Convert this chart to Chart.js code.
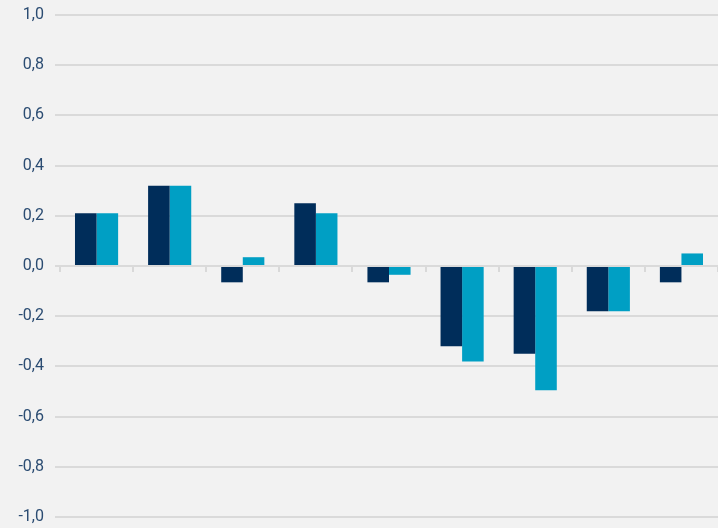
<!DOCTYPE html>
<html>
<head>
<meta charset="utf-8">
<script src="https://cdn.jsdelivr.net/npm/chart.js@4/dist/chart.umd.min.js"></script>
<style>
html,body{margin:0;padding:0;background:#f2f2f2;}
canvas{display:block;}
</style>
</head>
<body>
<canvas id="c" width="718" height="528"></canvas>
<script>
const categories = ["1","2","3","4","5","6","7","8","9"];
const seriesA = [0.21, 0.32, -0.065, 0.25, -0.065, -0.32, -0.35, -0.18, -0.065];
const seriesB = [0.21, 0.32, 0.035, 0.21, -0.035, -0.38, -0.495, -0.18, 0.05];
const yMin = -1.0, yMax = 1.0, yStep = 0.2;

new Chart(document.getElementById('c'), {
  type: 'bar',
  data: {
    labels: categories,
    datasets: [
      { label: 'A', data: seriesA, backgroundColor: '#002d5a', borderWidth: 0 },
      { label: 'B', data: seriesB, backgroundColor: '#009fc4', borderWidth: 0 }
    ]
  },
  options: {
    responsive: false,
    animation: false,
    layout: { padding: { top: 15, right: 0, bottom: 11, left: 0 } },
    datasets: { bar: { barPercentage: 1.0, categoryPercentage: 0.59 } },
    plugins: { legend: { display: false }, tooltip: { enabled: false } },
    scales: {
      x: {
        position: { y: 0 },
        grid: { display: true, drawOnChartArea: false, offset: true, tickLength: 6, color: '#d9d9d9', lineWidth: 2 },
        border: { display: false },
        ticks: { display: false },
        afterFit: s => { s.height = 0; s.paddingLeft = 0; s.paddingRight = 0; }
      },
      y: {
        min: yMin, max: yMax,
        afterFit: s => { s.width = 60; s.paddingTop = 0; s.paddingBottom = 0; },
        grid: { color: '#dadada', lineWidth: 2, drawTicks: true, tickLength: 5 },
        border: { display: false },
        ticks: {
          stepSize: yStep,
          padding: 11,
          color: '#2b4c72',
          font: { family: 'Roboto', size: 16 },
          callback: v => (Math.round(v*10)/10).toFixed(1).replace('.', ',')
        }
      }
    }
  }
});
</script>
</body>
</html>
